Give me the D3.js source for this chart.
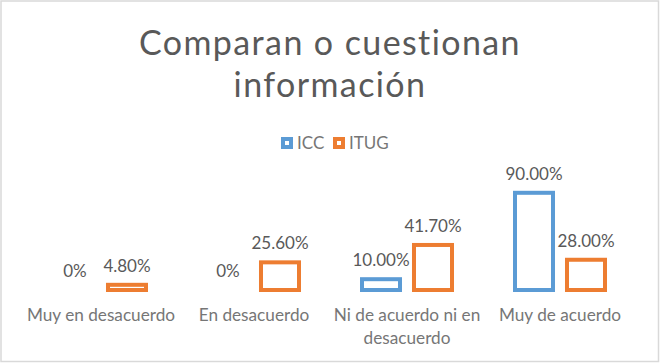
<!DOCTYPE html>
<html>
<head>
<meta charset="utf-8">
<script src="https://cdn.jsdelivr.net/npm/d3@7"></script>
<style>
  html, body { margin: 0; padding: 0; background: #fff; }
  svg { display: block; }
</style>
</head>
<body>
<svg id="chart" width="660" height="363"></svg>
<script>
const categories = ["Muy en desacuerdo", "En desacuerdo", "Ni de acuerdo ni en desacuerdo", "Muy de acuerdo"];
const series = ["ICC", "ITUG"];
const iccValues = [0, 0, 10.0, 90.0];
const itugValues = [4.8, 25.6, 41.7, 28.0];
const iccLabels = ["0%", "0%", "10.00%", "90.00%"];
const itugLabels = ["4.80%", "25.60%", "41.70%", "28.00%"];
const colors = ["#5b9bd5", "#ed7d31"];
const titleLines = ["Comparan o cuestionan", "información"];

const FONT = "Lato, 'Open Sans', sans-serif";
const svg = d3.select("#chart");
const W = 660, H = 363;

svg.append("rect").attr("x", 1).attr("y", 1).attr("width", W - 2.5).attr("height", H - 2.5)
  .attr("fill", "#fff").attr("stroke", "#d9d9d9").attr("stroke-width", 1.5);

// Title
const title = svg.append("text").attr("text-anchor", "middle")
  .attr("font-family", FONT).attr("font-size", 34).attr("font-weight", 400)
  .attr("letter-spacing", 1.4).attr("fill", "#595959");
titleLines.forEach((t, i) => {
  title.append("tspan").attr("x", 330).attr("y", 55 + i * 42).text(t);
});

// Legend
const legendItems = [{name: series[0], x: 281, color: colors[0]}, {name: series[1], x: 333, color: colors[1]}];
const lg = svg.append("g");
legendItems.forEach(d => {
  lg.append("rect").attr("x", d.x + 2).attr("y", 139).attr("width", 8).attr("height", 8)
    .attr("fill", "#fff").attr("stroke", d.color).attr("stroke-width", 4);
  lg.append("text").attr("x", d.x + 16).attr("y", 149).attr("font-family", FONT)
    .attr("font-size", 17).attr("fill", "#767676").text(d.name);
});

// Scales
const x0 = d3.scaleBand().domain(categories).range([24.5, 636.5]).padding(0);
const x1 = d3.scaleBand().domain(series).range([-45, 45]).paddingInner(0.269).paddingOuter(0);
const y = d3.scaleLinear().domain([0, 100]).range([290, 182]);

const data = [];
categories.forEach((c, i) => {
  data.push({cat: c, s: series[0], v: iccValues[i], label: iccLabels[i], color: colors[0]});
  data.push({cat: c, s: series[1], v: itugValues[i], label: itugLabels[i], color: colors[1]});
});

const g = svg.append("g");
g.selectAll("rect.bar").data(data.filter(d => d.v > 0)).join("rect")
  .attr("class", "bar")
  .attr("x", d => x0(d.cat) + x0.bandwidth() / 2 + x1(d.s))
  .attr("y", d => y(d.v))
  .attr("width", x1.bandwidth())
  .attr("height", d => y(0) - y(d.v))
  .attr("fill", "#fff")
  .attr("stroke", d => d.color)
  .attr("stroke-width", 4);

g.selectAll("text.lbl").data(data).join("text")
  .attr("class", "lbl")
  .attr("x", d => x0(d.cat) + x0.bandwidth() / 2 + x1(d.s) + x1.bandwidth() / 2)
  .attr("y", d => y(d.v) - 13)
  .attr("text-anchor", "middle")
  .attr("font-family", FONT).attr("font-size", 17).attr("fill", "#595959")
  .text(d => d.label);

// Category axis labels (wrapped)
const axis = d3.axisBottom(x0).tickSize(0).tickPadding(0);
const ax = svg.append("g").attr("transform", "translate(0,305)").call(axis);
ax.select(".domain").remove();
ax.selectAll("text").attr("font-family", FONT).attr("font-size", 17.2).attr("fill", "#767676")
  .attr("dy", null).attr("y", 16)
  .each(function(t) {
    const el = d3.select(this);
    const words = t.split(/\s+/);
    el.text(null);
    let line = [];
    let lineNo = 0;
    let tspan = el.append("tspan").attr("x", 0).attr("y", 16).attr("dy", 0);
    const maxW = x0.bandwidth() + 2;
    words.forEach(w => {
      line.push(w);
      tspan.text(line.join(" "));
      if (tspan.node().getComputedTextLength() > maxW && line.length > 1) {
        line.pop();
        tspan.text(line.join(" "));
        line = [w];
        lineNo++;
        tspan = el.append("tspan").attr("x", 0).attr("y", 16 + lineNo * 23).text(w);
      }
    });
  });
</script>
</body>
</html>
